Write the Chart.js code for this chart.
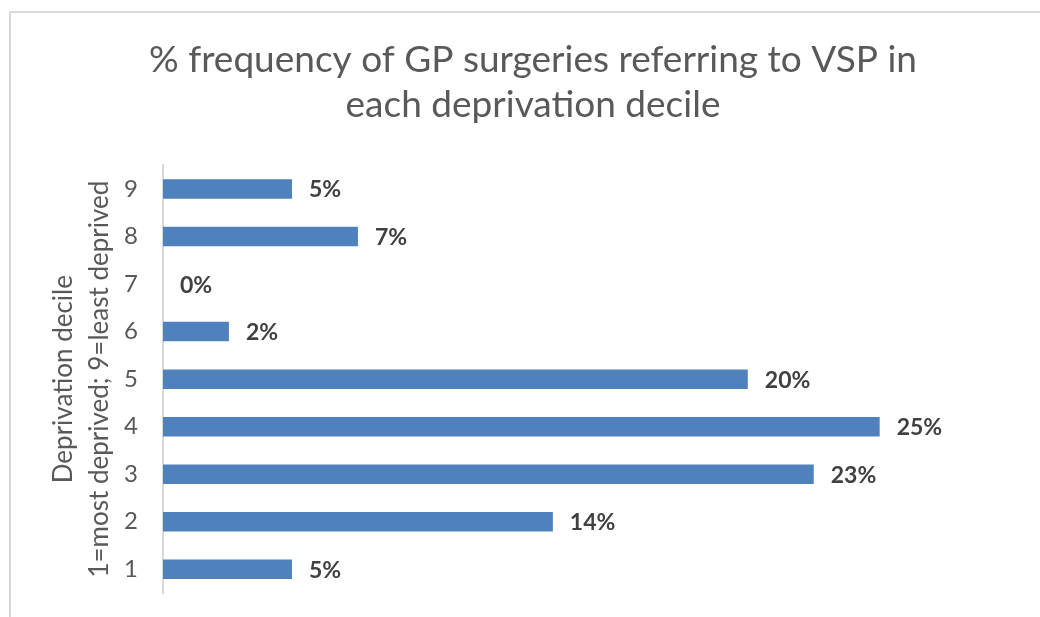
<!DOCTYPE html>
<html>
<head>
<meta charset="utf-8">
<script src="https://cdn.jsdelivr.net/npm/chart.js@4.4.1/dist/chart.umd.min.js"></script>
<style>
  html, body { margin: 0; padding: 0; background: #fff; }
  #frame { position: absolute; left: 9px; top: 11px; width: 1100px; height: 700px;
           border-left: 2px solid #d9d9d9; border-top: 2px solid #d9d9d9; }
  #canvas { position: absolute; left: 0; top: 0; }
</style>
</head>
<body>
<div id="frame"></div>
<canvas id="canvas" width="1040" height="617"></canvas>
<script>
const deciles = ['1', '2', '3', '4', '5', '6', '7', '8', '9'];
const percentages = [4.5, 13.6, 22.7, 25.0, 20.4, 2.3, 0, 6.8, 4.5];
const titleLines = ['% frequency of GP surgeries referring to VSP in', 'each deprivation decile'];
const axisTitleLines = ['Deprivation decile', '1=most deprived; 9=least deprived'];

const barLabels = {
    id: 'barLabels',
    afterDatasetsDraw(chart) {
        const ctx = chart.ctx;
        const meta = chart.getDatasetMeta(0);
        ctx.save();
        ctx.font = 'bold 23px Lato';
        ctx.fillStyle = '#404040';
        ctx.textAlign = 'left';
        ctx.textBaseline = 'middle';
        meta.data.forEach((bar, i) => {
            ctx.fillText(Math.round(percentages[i]) + '%', bar.x + 17, bar.y + 1);
        });
        ctx.restore();
    }
};

const ctx = document.getElementById('canvas').getContext('2d');
const myChart = new Chart(ctx, {
    type: 'bar',
    data: {
        labels: deciles,
        datasets: [{
            data: percentages,
            backgroundColor: '#4f81bd',
            barPercentage: 0.41,
            categoryPercentage: 1
        }]
    },
    plugins: [barLabels],
    options: {
        responsive: false,
        animation: false,
        indexAxis: 'y',
        layout: { padding: { left: 43, right: 17, top: 0, bottom: 24 } },
        plugins: {
            legend: { display: false },
            tooltip: { enabled: false },
            title: {
                display: true,
                text: titleLines,
                color: '#595959',
                font: { family: 'Lato', size: 37, weight: 'normal', lineHeight: 1.22 },
                padding: { top: 37, bottom: 38 }
            }
        },
        scales: {
            x: {
                display: false,
                min: 0,
                max: 30
            },
            y: {
                reverse: true,
                afterFit(scale) { scale.width = 120; },
                // invisible tick marks give the label gap without adding vertical padding
                grid: { display: true, color: 'rgba(0,0,0,0)', drawOnChartArea: false, drawTicks: true, tickLength: 25 },
                border: { display: true, color: '#d9d9d9', width: 2 },
                ticks: {
                    color: '#595959',
                    padding: 0,
                    font: { family: 'Lato', size: 24 }
                },
                title: {
                    display: true,
                    text: axisTitleLines,
                    color: '#595959',
                    padding: { top: 2, bottom: 0 },
                    font: { family: 'Lato', size: 26, lineHeight: 1.4 }
                }
            }
        }
    }
});
</script>
</body>
</html>
